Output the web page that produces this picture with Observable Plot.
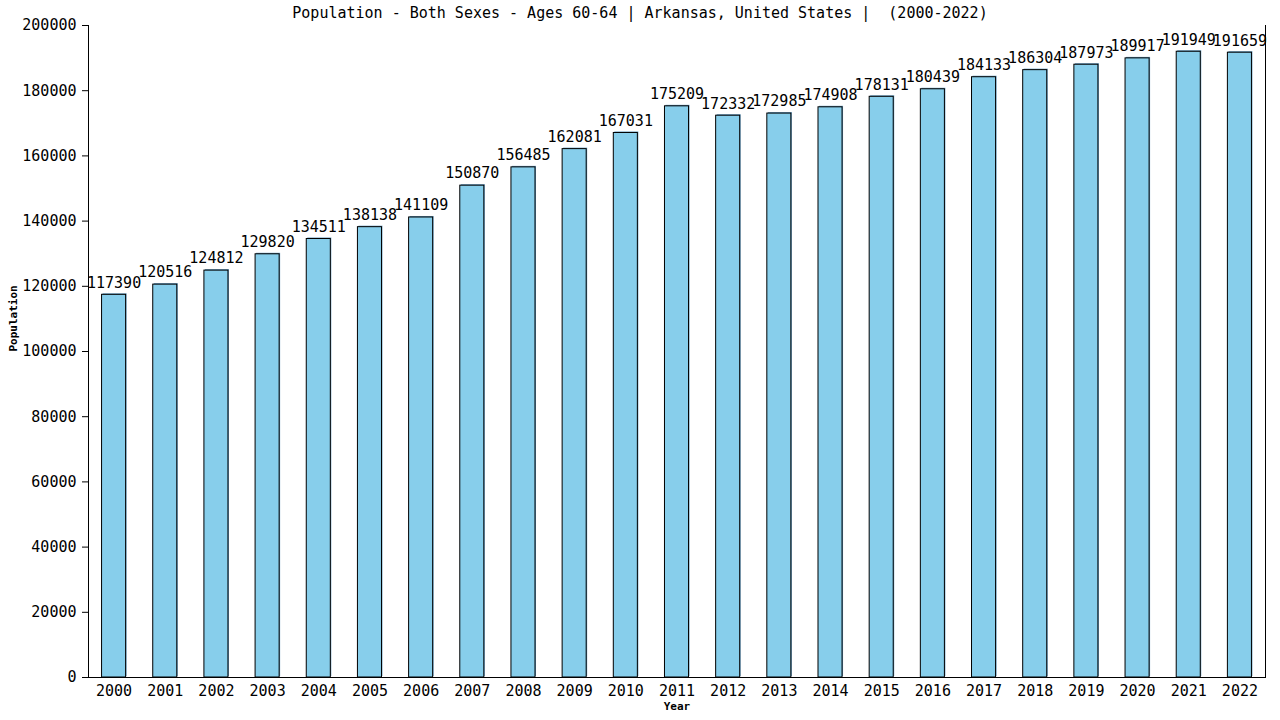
<!DOCTYPE html>
<html><head><meta charset="utf-8">
<script src="https://cdn.jsdelivr.net/npm/d3@7"></script>
<script src="https://cdn.jsdelivr.net/npm/@observablehq/plot@0.6"></script>
<style>
body{margin:0;background:#fff;}
#wrap{position:relative;width:1280px;height:720px;font-family:"DejaVu Sans Mono",monospace;}
#title{position:absolute;top:4px;left:0;width:1280px;text-align:center;font-size:15px;color:#000;white-space:pre;}
#chart{position:absolute;top:0;left:0;}
</style></head>
<body><div id="wrap"><div id="chart"></div><div id="title">Population - Both Sexes - Ages 60-64 | Arkansas, United States |  (2000-2022)</div></div>
<script>
const years = ["2000","2001","2002","2003","2004","2005","2006","2007","2008","2009","2010","2011","2012","2013","2014","2015","2016","2017","2018","2019","2020","2021","2022"];
const population = [117390,120516,124812,129820,134511,138138,141109,150870,156485,162081,167031,175209,172332,172985,174908,178131,180439,184133,186304,187973,189917,191949,191659];
const yTicks = [0,20000,40000,60000,80000,100000,120000,140000,160000,180000,200000];
const data = years.map((y,i)=>({year:y, value:population[i]}));
const font = "DejaVu Sans Mono, monospace";
const chart = Plot.plot({
  width:1280, height:720,
  marginLeft:88, marginRight:15, marginTop:25, marginBottom:43,
  style:{fontFamily:font, fontSize:"15px", color:"#000", background:"#fff"},
  x:{domain:years, paddingInner:0.53, paddingOuter:0.265, round:false, label:null},
  y:{domain:[0,200000], label:null},
  marks:[
    Plot.barY(data,{x:"year", y:"value", fill:"#6a9fc2", dx:1, dy:-1}),
    Plot.barY(data,{x:"year", y:"value", fill:"#87CEEB", stroke:"#000", strokeWidth:1}),
    Plot.text(data,{x:"year", y:"value", text:d=>String(d.value), dy:-12, fontSize:15, fill:"#000"}),
    Plot.axisY({ticks:yTicks, tickFormat:d=>String(d), tickSize:6, tickPadding:6, fontSize:15, label:null}),
    Plot.axisX({tickSize:0, tickPadding:8, fontSize:15, label:null}),
    Plot.ruleY([0]),
    Plot.frame({anchor:"left"}),
    Plot.frame({anchor:"right"}),
    Plot.text(["Year"],{frameAnchor:"bottom", dy:32, fontSize:11, fontWeight:"bold"}),
    Plot.text(["Population"],{frameAnchor:"left", dx:-75, rotate:-90, fontSize:11, fontWeight:"bold"})
  ]
});
document.getElementById("chart").appendChild(chart);
</script></body></html>
